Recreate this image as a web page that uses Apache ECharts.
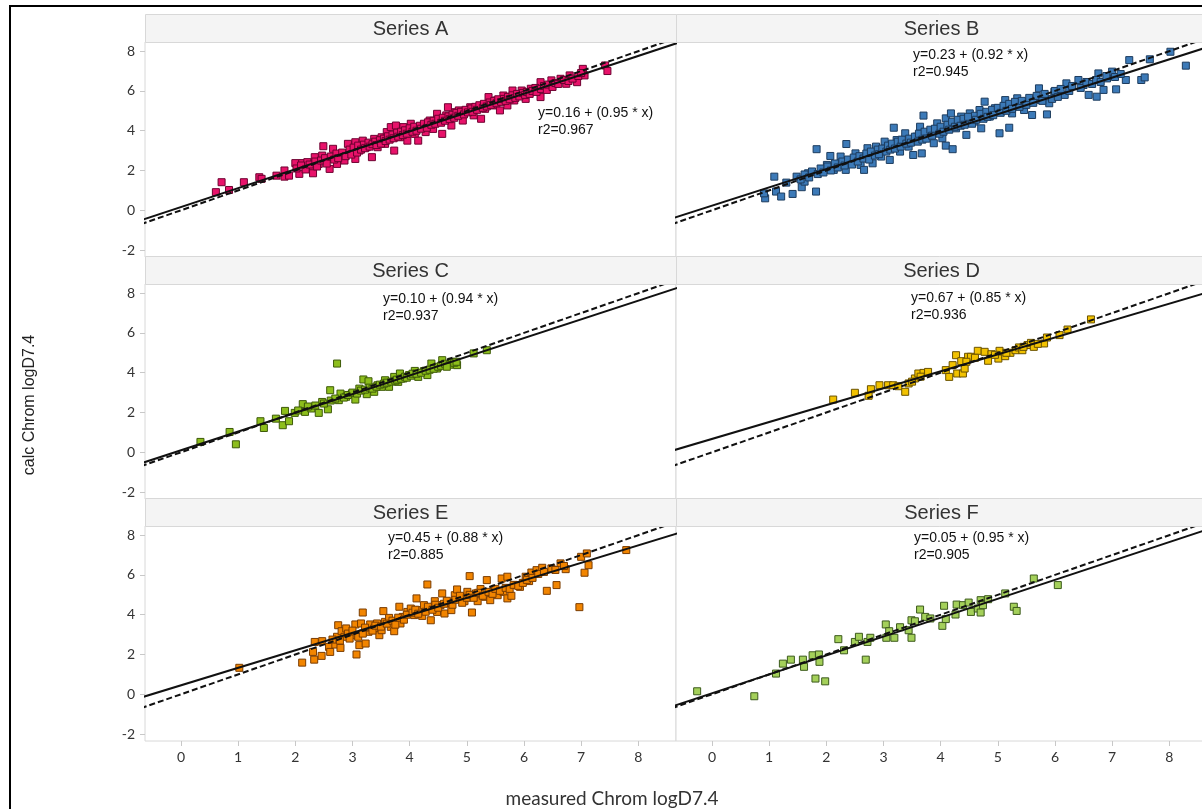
<!DOCTYPE html>
<html><head><meta charset="utf-8">
<script src="https://cdn.jsdelivr.net/npm/echarts@6/dist/echarts.min.js"></script>
<style>html,body{margin:0;padding:0;background:#fff;overflow:hidden}#c{width:1202px;height:809px}</style>
</head><body><div id="c"></div>
<script>
// ---------------- DATA ----------------
const panelNames = ['Series A', 'Series B', 'Series C', 'Series D', 'Series E', 'Series F'];
const xTicks = [0, 1, 2, 3, 4, 5, 6, 7, 8];
const yTicks = [-2, 0, 2, 4, 6, 8];
const intercepts = [0.16, 0.23, 0.10, 0.67, 0.45, 0.05];
const slopes = [0.95, 0.92, 0.94, 0.85, 0.88, 0.95];
const r2Values = ['0.967', '0.945', '0.937', '0.936', '0.885', '0.905'];
const xTitle = 'measured Chrom logD7.4';
const yTitle = 'calc Chrom logD7.4';

const seriesA = [
[0.61,0.91],[0.71,1.41],[0.84,1.02],[1.10,1.41],[1.37,1.66],[1.41,1.58],[1.67,1.74],[1.81,2.0],[1.81,1.69],[1.89,1.74],
[2.0,2.37],[2.07,1.83],[2.12,2.37],[2.21,2.42],[2.31,2.16],[2.31,1.86],[2.34,2.67],[2.41,2.33],[2.47,2.75],[2.49,3.22],
[2.6,2.08],[2.66,3.09],[2.73,2.33],[2.79,2.75],[2.86,2.5],[2.92,3.34],[2.99,2.92],[3.05,3.42],[3.05,2.58],[3.12,3.0],
[3.18,3.5],[3.25,3.17],[3.34,2.67],[3.38,3.59],[3.44,3.17],[3.51,3.67],[3.57,3.34],[3.6,3.93],[3.67,4.18],[3.73,3.0],
[3.76,4.26],[3.83,3.67],[3.89,4.18],[3.96,3.5],[4.02,4.35],[4.09,3.84],[4.15,3.5],[4.22,4.18],[4.28,3.93],[4.35,4.51],
[4.41,4.09],[4.48,4.85],[4.54,4.51],[4.57,3.84],[4.64,4.77],[4.67,5.18],[4.73,4.26],[4.8,4.93],[4.86,5.02],[4.93,4.51],
[5.06,5.18],[5.12,4.77],[5.25,4.6],[5.32,5.1],[5.38,5.69],[5.45,5.27],[5.51,5.52],[5.58,5.02],[5.64,5.77],[5.71,5.27],
[5.8,6.02],[5.83,5.52],[5.96,6.02],[6.03,5.6],[6.12,6.11],[6.29,6.44],[6.29,5.69],[6.45,6.28],[6.48,6.53],[6.64,6.61],
[6.74,6.36],[6.8,6.78],[6.93,6.44],[7.03,7.11],[7.06,6.78],[7.42,7.28],[7.46,7.0],
[2.02,2.1],[2.1,2.25],[2.18,2.05],[2.25,2.3],[2.35,2.45],[2.38,2.2],[2.45,2.5],[2.52,2.62],[2.55,2.35],[2.62,2.7],
[2.68,2.55],[2.72,2.85],[2.75,2.62],[2.82,2.9],[2.88,2.72],[2.95,3.05],[2.98,2.8],[3.02,3.15],[3.08,2.9],[3.1,3.25],
[3.15,3.05],[3.2,3.3],[3.22,3.12],[3.28,3.4],[3.3,3.2],[3.35,3.32],[3.4,3.45],[3.42,3.28],[3.48,3.52],[3.5,3.35],
[3.55,3.6],[3.58,3.48],[3.62,3.72],[3.65,3.55],[3.7,3.8],[3.72,3.62],[3.78,3.9],[3.8,3.7],[3.85,3.95],[3.88,3.78],
[3.92,4.02],[3.95,3.85],[4.0,4.12],[4.05,3.95],[4.08,4.2],[4.12,4.0],[4.18,4.25],[4.2,4.1],[4.25,4.35],[4.3,4.15],
[4.32,4.42],[4.38,4.3],[4.42,4.5],[4.45,4.35],[4.5,4.6],[4.55,4.4],[4.58,4.65],[4.62,4.5],[4.68,4.72],[4.7,4.58],
[4.75,4.8],[4.78,4.65],[4.82,4.9],[4.85,4.75],[4.9,4.95],[4.95,4.82],[4.98,5.05],[5.02,4.92],[5.08,5.12],[5.1,4.95],
[5.15,5.2],[5.18,5.05],[5.22,5.28],[5.28,5.15],[5.3,5.35],[5.35,5.22],[5.4,5.42],[5.42,5.3],[5.48,5.5],[5.52,5.38],
[5.55,5.58],[5.6,5.45],[5.65,5.6],[5.68,5.5],[5.72,5.7],[5.75,5.58],[5.8,5.78],[5.85,5.65],[5.88,5.85],[5.92,5.72],
[5.98,5.9],[6.02,5.8],[6.05,5.95],[6.1,5.85],[6.15,6.0],[6.2,6.15],[6.22,5.95],[6.3,6.1],[6.35,6.25],[6.4,6.05],
[6.42,6.32],[6.5,6.2],[6.55,6.4],[6.6,6.35],[6.7,6.55],[6.78,6.5],[6.85,6.62],[6.95,6.75],[7.0,6.9]
];

const seriesB = [
[0.93,0.60],[0.91,0.85],[1.09,1.69],[1.12,0.94],[1.21,0.69],[1.30,1.39],[1.41,0.82],[1.48,1.69],[1.57,1.16],[1.62,1.44],
[1.68,1.86],[1.82,0.94],[1.83,3.07],[1.92,1.94],[2.01,2.28],[2.07,2.73],[2.13,2.03],[2.25,2.70],[2.34,2.03],[2.35,3.33],
[2.43,2.53],[2.51,2.86],[2.6,2.28],[2.66,2.03],[2.72,3.12],[2.81,2.36],[2.87,3.2],[2.96,2.70],[3.02,3.45],[3.11,2.53],
[3.18,4.15],[3.23,3.53],[3.29,2.95],[3.38,3.87],[3.44,3.2],[3.52,2.78],[3.58,3.70],[3.64,4.20],[3.67,2.86],[3.70,4.76],
[3.79,3.87],[3.88,3.37],[3.94,4.37],[4.03,3.62],[4.09,4.62],[4.09,3.25],[4.18,4.87],[4.21,3.07],[4.27,4.12],[4.36,4.71],
[4.45,3.79],[4.51,4.87],[4.59,4.46],[4.68,5.04],[4.71,4.12],[4.77,5.46],[4.86,4.71],[4.95,5.13],[5.03,3.87],[5.13,5.54],
[5.2,4.15],[5.25,4.87],[5.34,5.63],[5.46,5.04],[5.57,5.54],[5.6,4.79],[5.72,6.13],[5.75,5.54],[5.86,4.82],[5.9,5.38],
[5.99,5.96],[6.17,5.80],[6.2,6.38],[6.41,6.55],[6.5,6.3],[6.59,5.80],[6.73,5.71],[6.76,6.88],[6.85,6.05],[6.91,6.63],
[7.0,6.97],[7.07,6.08],[7.24,6.55],[7.30,7.55],[7.51,6.55],[7.57,6.68],[7.66,7.59],[8.02,7.97],[8.29,7.27],
[1.55,1.55],[1.62,1.8],[1.7,1.65],[1.75,1.95],[1.85,1.82],[1.9,2.1],[1.95,1.9],[2.02,2.2],[2.08,2.0],[2.15,2.35],
[2.2,2.15],[2.28,2.45],[2.32,2.25],[2.38,2.55],[2.45,2.3],[2.48,2.65],[2.55,2.45],[2.58,2.72],[2.65,2.6],[2.7,2.85],
[2.75,2.55],[2.78,2.95],[2.85,2.75],[2.9,3.05],[2.92,2.82],[2.98,3.1],[3.05,2.95],[3.08,3.25],[3.12,3.05],[3.15,3.35],
[3.2,3.1],[3.25,3.45],[3.3,3.2],[3.32,3.55],[3.4,3.35],[3.45,3.6],[3.48,3.4],[3.55,3.7],[3.6,3.45],[3.62,3.85],
[3.68,3.55],[3.72,3.95],[3.75,3.6],[3.82,4.05],[3.85,3.75],[3.9,4.1],[3.98,3.85],[4.0,4.2],[4.05,3.95],[4.12,4.3],
[4.15,4.05],[4.2,4.45],[4.25,4.2],[4.3,4.55],[4.35,4.25],[4.4,4.6],[4.42,4.3],[4.48,4.7],[4.55,4.35],[4.6,4.75],
[4.62,4.55],[4.7,4.85],[4.75,4.6],[4.8,4.95],[4.82,4.7],[4.9,5.05],[4.92,4.78],[5.0,5.15],[5.05,4.9],[5.1,5.25],
[5.15,5.0],[5.2,5.35],[5.25,5.1],[5.3,5.45],[5.38,5.2],[5.42,5.5],[5.5,5.3],[5.55,5.65],[5.62,5.4],[5.68,5.75],
[5.78,5.5],[5.82,5.85],[5.95,5.6],[6.0,6.0],[6.05,5.7],[6.1,6.1],[6.25,6.0],[6.3,6.25],[6.45,6.15],[6.55,6.45],
[6.65,6.35],[6.72,6.55],[6.8,6.45],[6.9,6.75],[7.05,6.7],[7.15,6.85]
];

const seriesC = [
[0.34,0.52],[0.85,1.02],[0.96,0.40],[1.39,1.56],[1.45,1.22],[1.66,1.69],[1.78,1.36],[1.82,2.08],[1.89,1.56],[1.99,1.98],
[2.13,2.42],[2.17,2.03],[2.28,2.20],[2.41,1.98],[2.47,2.53],[2.57,2.16],[2.61,3.12],[2.73,4.46],[2.76,2.62],[2.79,2.95],
[2.89,2.79],[2.99,2.95],[3.05,2.65],[3.12,3.20],[3.19,3.66],[3.25,2.92],[3.28,3.57],[3.38,3.04],[3.44,3.37],[3.51,3.29],
[3.57,3.62],[3.64,3.29],[3.73,3.79],[3.80,3.54],[3.83,3.96],[3.89,3.71],[3.99,3.88],[4.09,4.09],[4.15,3.79],[4.25,4.08],
[4.31,3.88],[4.38,4.46],[4.48,4.21],[4.57,4.63],[4.64,4.38],[4.73,4.55],[4.83,4.38],[5.12,4.97],[5.35,5.13],
[2.05,2.1],[2.22,2.3],[2.35,2.35],[2.5,2.45],[2.62,2.6],[2.7,2.7],[2.85,2.75],[2.92,2.88],[3.0,3.0],[3.08,2.95],
[3.15,3.1],[3.22,3.15],[3.3,3.25],[3.35,3.2],[3.42,3.3],[3.48,3.4],[3.55,3.45],[3.6,3.5],[3.68,3.55],[3.75,3.6],
[3.78,3.65],[3.85,3.7],[3.92,3.8],[3.95,3.75],[4.02,3.85],[4.05,3.95],[4.12,3.95],[4.2,4.0],[4.28,4.1],[4.35,4.15],
[4.42,4.2],[4.5,4.3],[4.55,4.35],[4.62,4.45],[4.7,4.4],[4.78,4.5],[4.82,4.55],[4.65,4.3]
];

const seriesD = [
[2.12,2.65],[2.5,2.99],[2.74,2.84],[2.78,3.17],[2.93,3.37],[3.08,3.37],[3.17,3.37],[3.26,3.32],[3.38,3.04],[3.44,3.46],
[3.55,3.71],[3.61,3.96],[3.70,3.99],[3.78,4.04],[4.09,4.13],[4.15,3.79],[4.21,4.38],[4.27,4.88],[4.29,3.96],[4.36,4.58],
[4.39,3.96],[4.42,4.21],[4.48,4.80],[4.53,4.80],[4.65,5.10],[4.77,5.05],[4.83,4.60],[4.89,4.93],[5.01,4.71],[5.03,5.10],
[5.13,4.83],[5.22,5.0],[5.31,5.13],[5.37,5.27],[5.43,5.13],[5.52,5.39],[5.58,5.50],[5.63,5.30],[5.81,5.47],[5.86,5.77],
[6.08,5.89],[6.22,6.17],[6.63,6.68],
[3.5,3.55],[3.65,3.8],[4.45,4.55],[4.6,4.75],[4.95,4.9],[5.15,5.0],[5.45,5.3],[5.7,5.45]
];

const seriesE = [
[1.02,1.33],[2.12,1.59],[2.33,1.74],[2.31,2.13],[2.34,2.63],[2.46,1.93],[2.47,2.67],[2.59,2.38],[2.61,2.13],[2.70,2.5],
[2.73,2.89],[2.75,3.47],[2.79,2.33],[2.81,3.17],[2.86,2.89],[2.89,3.31],[2.99,2.97],[3.05,3.51],[3.07,2.0],[3.10,2.89],
[3.12,2.47],[3.15,3.56],[3.18,4.11],[3.23,2.55],[3.28,3.14],[3.31,3.51],[3.38,3.31],[3.43,3.56],[3.47,2.97],[3.51,3.22],
[3.54,4.18],[3.57,3.64],[3.64,3.84],[3.67,3.39],[3.73,3.17],[3.82,4.40],[3.84,3.56],[3.88,3.89],[3.96,4.14],[4.02,4.31],
[4.08,3.98],[4.12,4.82],[4.17,4.23],[4.22,3.94],[4.25,4.48],[4.31,5.52],[4.35,4.31],[4.37,3.72],[4.44,4.68],[4.48,4.14],
[4.54,4.48],[4.57,5.07],[4.61,4.06],[4.70,4.61],[4.73,4.23],[4.79,4.98],[4.83,5.27],[4.90,4.82],[4.96,4.68],[5.01,5.15],
[5.05,5.94],[5.09,4.11],[5.16,5.07],[5.19,4.68],[5.24,5.29],[5.32,4.90],[5.35,5.74],[5.41,4.73],[5.47,5.24],[5.54,4.98],
[5.61,5.82],[5.64,5.15],[5.71,5.91],[5.71,4.82],[5.78,4.95],[5.87,5.49],[5.93,5.40],[6.03,5.91],[6.09,5.69],[6.13,6.12],
[6.22,6.24],[6.32,6.36],[6.40,5.20],[6.48,6.33],[6.57,5.49],[6.64,6.58],[6.73,6.29],[6.97,4.38],[7.0,6.91],[7.06,6.11],
[7.10,7.08],[7.13,6.49],[7.79,7.25],
[2.65,2.75],[2.78,2.7],[2.92,3.05],[2.95,2.8],[3.0,3.2],[3.18,3.05],[3.22,3.35],[3.35,3.2],[3.4,3.45],[3.5,3.4],
[3.6,3.55],[3.7,3.7],[3.75,3.5],[3.8,3.85],[3.9,3.75],[3.95,4.0],[4.05,4.1],[4.1,4.25],[4.15,4.05],[4.28,4.15],
[4.32,4.4],[4.4,4.25],[4.45,4.5],[4.5,4.35],[4.6,4.55],[4.65,4.7],[4.75,4.5],[4.8,4.75],[4.88,4.95],[4.92,4.6],
[5.0,4.85],[5.05,5.0],[5.12,4.85],[5.2,5.1],[5.28,4.95],[5.38,5.15],[5.45,5.05],[5.5,5.3],[5.58,5.2],[5.68,5.35],
[5.75,5.3],[5.82,5.5],[5.9,5.45],[5.98,5.6],[6.05,5.75],[6.15,5.85],[6.25,6.05],[6.35,6.15],[6.55,6.25],[6.7,6.45]
];

const seriesF = [
[-0.26,0.15],[0.74,-0.10],[1.12,1.04],[1.24,1.54],[1.38,1.74],[1.59,1.74],[1.61,1.38],[1.76,1.96],[1.81,0.79],[1.87,2.0],
[1.88,1.63],[1.98,0.65],[2.21,2.77],[2.31,2.21],[2.50,2.63],[2.57,2.89],[2.69,1.74],[2.72,2.63],[2.77,2.84],[3.05,2.84],
[3.04,3.51],[3.10,3.17],[3.19,2.84],[3.29,3.37],[3.44,3.22],[3.49,2.84],[3.49,3.72],[3.55,3.67],[3.64,4.26],[3.73,3.89],
[3.82,3.81],[4.03,3.44],[4.06,4.45],[4.09,3.78],[4.26,4.01],[4.28,4.51],[4.39,4.48],[4.49,4.61],[4.53,4.14],[4.65,4.31],
[4.70,4.73],[4.70,4.11],[4.74,4.48],[4.83,4.78],[5.13,5.07],[5.28,4.40],[5.33,4.19],[5.63,5.82],[6.05,5.49]
];

const allSeries = [seriesA, seriesB, seriesC, seriesD, seriesE, seriesF];
const fillColors = ['#e8126a', '#3c7ab8', '#8dbe1c', '#f2c200', '#f28500', '#a4d05a'];
const edgeColors = ['#6e0030', '#1d3c5e', '#3d5a08', '#6a5200', '#7a3c00', '#3c5a1c'];

// ---------------- LAYOUT ----------------
const colLeft = [145, 676];
const rowTop = [14, 256, 498];
const panelW = 531, stripH = 28, plotH = 215;
const xMin = -0.63, xMax = 8.66, yMin = -2.35, yMax = 8.46;
const annotPos = [[538, 105], [913, 47], [383, 291], [911, 290], [388, 530], [914, 530]];

const grids = [], xAxes = [], yAxes = [], series = [], graphics = [];
for (let i = 0; i < 6; i++) {
  const col = i % 2, row = Math.floor(i / 2);
  const gl = colLeft[col], gt = rowTop[row] + stripH;
  grids.push({left: gl, top: gt, width: panelW, height: plotH, show: true,
    borderColor: '#d8d8d8', borderWidth: 1, backgroundColor: '#fff', containLabel: false,
    outerBoundsMode: 'none'});
  xAxes.push({gridIndex: i, type: 'value', min: xMin, max: xMax,
    axisLine: {show: false, onZero: false}, splitLine: {show: false},
    axisTick: {show: row === 2, customValues: xTicks, length: 5, lineStyle: {color: '#c8c8c8'}},
    axisLabel: {show: row === 2, customValues: xTicks, color: '#333', fontSize: 14, fontFamily: 'Lato', margin: 9}});
  yAxes.push({gridIndex: i, type: 'value', min: yMin, max: yMax,
    axisLine: {show: false, onZero: false}, splitLine: {show: false},
    axisTick: {show: col === 0, customValues: yTicks, length: 5, lineStyle: {color: '#c8c8c8'}},
    axisLabel: {show: col === 0, customValues: yTicks, color: '#333', fontSize: 14, fontFamily: 'Lato', margin: 10}});
  series.push({type: 'scatter', xAxisIndex: i, yAxisIndex: i, data: allSeries[i], symbol: 'rect', symbolSize: 7,
    itemStyle: {color: fillColors[i], borderColor: edgeColors[i], borderWidth: 1, opacity: 1}, z: 2, silent: true});
  const a = intercepts[i], b = slopes[i];
  series.push({type: 'line', xAxisIndex: i, yAxisIndex: i, data: [[-1, -1], [9.5, 9.5]], symbol: 'none', clip: true,
    lineStyle: {color: '#111', width: 2, type: [6, 3]}, z: 3, silent: true});
  series.push({type: 'line', xAxisIndex: i, yAxisIndex: i, data: [[-1, a + b * -1], [9.5, a + b * 9.5]], symbol: 'none', clip: true,
    lineStyle: {color: '#111', width: 2}, z: 4, silent: true});
  // strip header
  graphics.push({type: 'rect', shape: {x: gl + 0.5, y: rowTop[row] + 0.5, width: panelW, height: stripH},
    style: {fill: '#f4f4f4', stroke: '#d8d8d8', lineWidth: 1}, z: 10});
  graphics.push({type: 'text', x: gl + panelW / 2, y: rowTop[row] + stripH / 2 + 1,
    style: {text: panelNames[i], align: 'center', verticalAlign: 'middle', fill: '#333',
      font: '20px "Liberation Sans"'}, z: 11});
  // regression annotation
  graphics.push({type: 'text', x: annotPos[i][0], y: annotPos[i][1],
    style: {text: 'y=' + a.toFixed(2) + ' + (' + b.toFixed(2) + ' * x)\nr2=' + r2Values[i],
      align: 'left', verticalAlign: 'top', fill: '#111', font: '14px "Liberation Sans"', lineHeight: 17}, z: 11});
}
// axis titles
graphics.push({type: 'text', x: 612, y: 799, style: {text: xTitle, align: 'center', verticalAlign: 'middle',
  fill: '#333', font: '19px Lato'}, z: 11});
graphics.push({type: 'text', x: 30, y: 405, rotation: Math.PI / 2, style: {text: yTitle, align: 'center',
  verticalAlign: 'middle', fill: '#222', font: '16px "Liberation Sans"'}, z: 11});
// outer frame
graphics.push({type: 'line', shape: {x1: 9, y1: 6, x2: 1202, y2: 6}, style: {stroke: '#000', lineWidth: 2}, z: 12});
graphics.push({type: 'line', shape: {x1: 10, y1: 5, x2: 10, y2: 809}, style: {stroke: '#000', lineWidth: 2}, z: 12});

const chart = echarts.init(document.getElementById('c'), null, {renderer: 'canvas'});
chart.setOption({animation: false, backgroundColor: '#fff', grid: grids, xAxis: xAxes, yAxis: yAxes,
  series: series, graphic: graphics});
</script></body></html>
